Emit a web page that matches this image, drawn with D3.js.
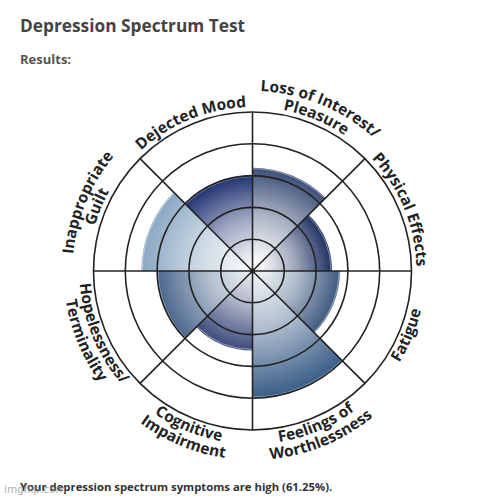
<!DOCTYPE html>
<html>
<head>
<meta charset="utf-8">
<script src="https://cdn.jsdelivr.net/npm/d3@7"></script>
<style>
  body { margin: 0; background: #fff; }
  svg { display: block; font-family: "Open Sans", sans-serif; }
</style>
</head>
<body>
<svg id="chart" width="500" height="500"></svg>
<script>
// categories clockwise from the top, label lines in reading order
var categories = [
  ["Loss of Interest/", "Pleasure"],
  ["Physical Effects"],
  ["Fatigue"],
  ["Feelings of", "Worthlessness"],
  ["Cognitive", "Impairment"],
  ["Hopelessness/", "Terminality"],
  ["Inappropriate", "Guilt"],
  ["Dejected Mood"]
];
var scores = [65, 50, 55, 80, 50, 60, 70, 60];
var edgeColors = ["#3c4f78", "#1e3160", "#3f5a80", "#3a5d87", "#3c4a7b", "#4b678c", "#8aa8c2", "#213473"];
var ringTicks = [20, 40, 60, 80, 100];

var svg = d3.select("#chart");
var cx = 252.5, cy = 271, outerR = 159;

var rScale = d3.scaleLinear().domain([0, 100]).range([0, outerR]);
var angle = d3.scaleLinear().domain([0, categories.length]).range([0, 2 * Math.PI]);

svg.append("text").attr("x", 20).attr("y", 32)
  .style("font-size", "17.3px").style("font-weight", 700).style("fill", "#444")
  .text("Depression Spectrum Test");
svg.append("text").attr("x", 20).attr("y", 64)
  .style("font-size", "13px").style("font-weight", 700).style("fill", "#555")
  .text("Results:");

var defs = svg.append("defs");
var g = svg.append("g").attr("transform", "translate(" + cx + "," + cy + ")");

// one radial gradient per slice, stretched to the slice's own radius
scores.forEach(function(v, i) {
  var grad = defs.append("radialGradient")
    .attr("id", "grad" + i)
    .attr("gradientUnits", "userSpaceOnUse")
    .attr("cx", 0).attr("cy", 0)
    .attr("fx", 6).attr("fy", -8)
    .attr("r", rScale(v));
  grad.append("stop").attr("offset", "0%").attr("stop-color", "#ffffff");
  grad.append("stop").attr("offset", "50%").attr("stop-color", d3.interpolateRgb("#ffffff", edgeColors[i])(0.42));
  grad.append("stop").attr("offset", "100%").attr("stop-color", edgeColors[i]);
});

var arc = d3.arc().innerRadius(0);

g.selectAll(".slice")
  .data(scores)
  .enter().append("path")
  .attr("class", "slice")
  .attr("fill", function(d, i) { return "url(#grad" + i + ")"; })
  .attr("d", function(d, i) {
    return arc({ outerRadius: rScale(d), startAngle: angle(i), endAngle: angle(i + 1) });
  });

// faint highlight on slice edges
g.selectAll(".edge")
  .data(scores)
  .enter().append("path")
  .attr("class", "edge")
  .attr("fill", "none")
  .attr("stroke", "#fff")
  .attr("stroke-opacity", 0.3)
  .attr("stroke-width", 0.8)
  .attr("d", function(d, i) {
    return d3.arc()({ innerRadius: rScale(d) - 1, outerRadius: rScale(d) - 1, startAngle: angle(i), endAngle: angle(i + 1) });
  });

g.selectAll(".ring")
  .data(ringTicks)
  .enter().append("circle")
  .attr("class", "ring")
  .attr("r", function(d) { return rScale(d); })
  .attr("fill", "none")
  .attr("stroke", "#222")
  .attr("stroke-width", 1.6);

g.selectAll(".spoke")
  .data(categories)
  .enter().append("line")
  .attr("class", "spoke")
  .attr("x1", 0).attr("y1", 0)
  .attr("x2", function(d, i) { return outerR * Math.sin(angle(i)); })
  .attr("y2", function(d, i) { return -outerR * Math.cos(angle(i)); })
  .attr("stroke", "#222")
  .attr("stroke-width", 1.6);

g.append("circle").attr("r", 2.5).attr("fill", "#222");

// curved labels
function arcPath(r, a0, a1, clockwise) {
  function pt(a) { return [r * Math.sin(a), -r * Math.cos(a)]; }
  var p0 = clockwise ? pt(a0) : pt(a1);
  var p1 = clockwise ? pt(a1) : pt(a0);
  return "M" + p0[0] + "," + p0[1] + " A" + r + "," + r + " 0 0," + (clockwise ? 1 : 0) + " " + p1[0] + "," + p1[1];
}

var topInner = 164, bottomInner = 173, lineGap = 16;
var pathId = 0;
categories.forEach(function(lines, i) {
  var mid = (angle(i) + angle(i + 1)) / 2;
  var deg = mid * 180 / Math.PI;
  var isTop = deg < 90 || deg > 270;
  lines.forEach(function(line, j) {
    var r = isTop ? topInner + (lines.length - 1 - j) * lineGap : bottomInner + j * lineGap;
    var id = "lbl" + (pathId++);
    defs.append("path").attr("id", id)
      .attr("d", arcPath(r, mid - Math.PI / 3, mid + Math.PI / 3, isTop));
    g.append("text")
      .style("font-size", "15.5px").style("font-weight", 700).style("fill", "#222")
      .append("textPath")
      .attr("href", "#" + id)
      .attr("startOffset", "50%")
      .attr("text-anchor", "middle")
      .text(line);
  });
});

var avg = d3.mean(scores);
svg.append("text").attr("x", 20).attr("y", 491)
  .style("font-size", "11.3px").style("font-weight", 700).style("fill", "#333")
  .text("Your depression spectrum symptoms are high (" + avg.toFixed(2) + "%).");

svg.append("text").attr("x", 4).attr("y", 493)
  .style("font-family", "'DejaVu Sans', sans-serif")
  .style("font-size", "10.5px").style("fill", "#999").style("fill-opacity", 0.8)
  .text("imgflip.com");
</script>
</body>
</html>
